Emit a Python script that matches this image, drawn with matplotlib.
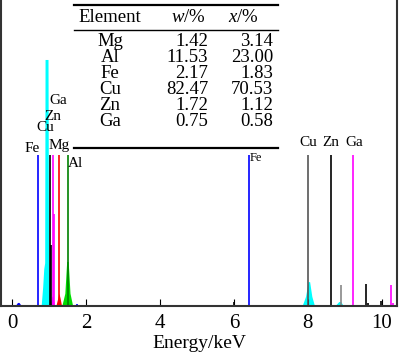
import numpy as np
import matplotlib
matplotlib.use("Agg")
import matplotlib.pyplot as plt

plt.rcParams['font.family'] = ['Liberation Serif', 'DejaVu Serif']
plt.rcParams['mathtext.fontset'] = 'custom'
plt.rcParams['mathtext.rm'] = 'Liberation Serif'
plt.rcParams['mathtext.it'] = 'Liberation Serif:italic'

# composition table
elements = ['Mg', 'Al', 'Fe', 'Cu', 'Zn', 'Ga']
w_pct = ['1.42', '11.53', '2.17', '82.47', '1.72', '0.75']
x_pct = ['3.14', '23.00', '1.83', '70.53', '1.12', '0.58']

# characteristic lines (keV, counts)
line_pos = [0.71, 1.03, 1.05, 1.11, 1.13, 1.28, 1.52,
            6.40, 8.00, 8.62, 9.23,
            6.00, 8.90, 9.57, 9.62, 9.97, 10.25, 10.30, 1.76]
line_h = [493, 493, 200, 493, 300, 493, 493,
          493, 493, 493, 493,
          13, 69, 72, 10, 16, 69, 10, 5]
line_col = ['blue', 'black', 'black', 'magenta', 'magenta', 'red', 'green',
            'blue', '#555555', 'black', 'magenta',
            'black', '#888888', 'black', 'black', 'black', 'magenta', 'magenta', 'blue']

# peak outlines
cu_l_x = [0.80, 0.84, 0.87, 0.895, 0.905, 0.985, 1.0, 1.03]
cu_l_y = [0, 60, 120, 140, 804, 804, 150, 0]
al_x = [1.36, 1.44, 1.49, 1.53, 1.58, 1.65]
al_y = [0, 40, 144, 144, 40, 0]
mg_x = [1.20, 1.25, 1.28, 1.31, 1.35]
mg_y = [0, 25, 40, 25, 0]
ga_x = [1.05, 1.09, 1.12, 1.16]
ga_y = [0, 30, 30, 0]
cu_k_x = [7.86, 7.95, 8.02, 8.06, 8.12, 8.19]
cu_k_y = [0, 30, 78, 78, 30, 0]
cu_kb_x = [8.75, 8.85, 8.90, 8.97]
cu_kb_y = [0, 13, 13, 0]
o_x = [0.10, 0.16, 0.20, 0.26]
o_y = [0, 10, 10, 0]

peak_labels = ['Fe', 'Cu', 'Zn', 'Ga', 'Mg', 'Al', 'Fe', 'Cu', 'Zn', 'Ga']
label_x = [0.54, 0.905, 1.11, 1.24, 1.28, 1.72, 6.43, 8.0, 8.61, 9.26]
label_y = [516, 582, 618, 670, 523, 467, 484, 533, 533, 533]

fig = plt.figure(figsize=(4.0, 3.53), dpi=100)
ax = fig.add_axes([1/400, 47/353, 396/400, 306/353])

ax.fill(cu_l_x, cu_l_y, color='cyan', lw=0)
ax.fill(al_x, al_y, color='#00dd00', lw=0)
ax.fill(mg_x, mg_y, color='red', lw=0)
ax.fill(ga_x, ga_y, color='magenta', lw=0)
ax.fill(cu_k_x, cu_k_y, color='cyan', lw=0)
ax.fill(cu_kb_x, cu_kb_y, color='cyan', lw=0)
ax.fill(o_x, o_y, color='blue', lw=0)
ax.vlines(line_pos, 0, line_h, colors=line_col, lw=1.2)

for i in range(len(peak_labels)):
    ha = 'left' if i == 6 else 'center'
    fs = 9 if i == 6 else 11
    ax.text(label_x[i], label_y[i], peak_labels[i], ha=ha, va='center', fontsize=fs)

# table
tx = ax.transAxes
ax.plot([0.184, 0.699], [0.984, 0.984], color='black', lw=1.6, transform=tx, clip_on=False)
ax.plot([0.184, 0.699], [0.902, 0.902], color='black', lw=1.0, transform=tx, clip_on=False)
ax.plot([0.184, 0.699], [0.516, 0.516], color='black', lw=1.6, transform=tx, clip_on=False)
ax.text(0.275, 0.944, 'Element', ha='center', va='center', fontsize=13.5, transform=tx)
ax.text(0.472, 0.944, r'$\mathit{w}$/%', ha='center', va='center', fontsize=13.5, transform=tx)
ax.text(0.611, 0.944, r'$\mathit{x}$/%', ha='center', va='center', fontsize=13.5, transform=tx)
row_py = [41, 57, 73, 89, 105, 122]
for i in range(len(elements)):
    fy = (306 - row_py[i]) / 306
    ax.text(0.275, fy, elements[i], ha='center', va='center', fontsize=13.5, transform=tx)
    ax.text(0.523, fy, w_pct[i], ha='right', va='center', fontsize=13.5, transform=tx)
    ax.text(0.687, fy, x_pct[i], ha='right', va='center', fontsize=13.5, transform=tx)

ax.set_xlim(-0.30, 10.41)
ax.set_ylim(0, 1000)
ax.set_xticks([0, 2, 4, 6, 8, 10])
ax.set_yticks([])
ax.tick_params(axis='x', direction='in', length=5, labelsize=15, pad=6)
ax.spines['top'].set_visible(False)
for s in ['left', 'right', 'bottom']:
    ax.spines[s].set_linewidth(1.5)
    ax.spines[s].set_color('#333333')
ax.set_xlabel('Energy/keV', fontsize=14, labelpad=1)

fig.savefig('out.png', dpi=100)
